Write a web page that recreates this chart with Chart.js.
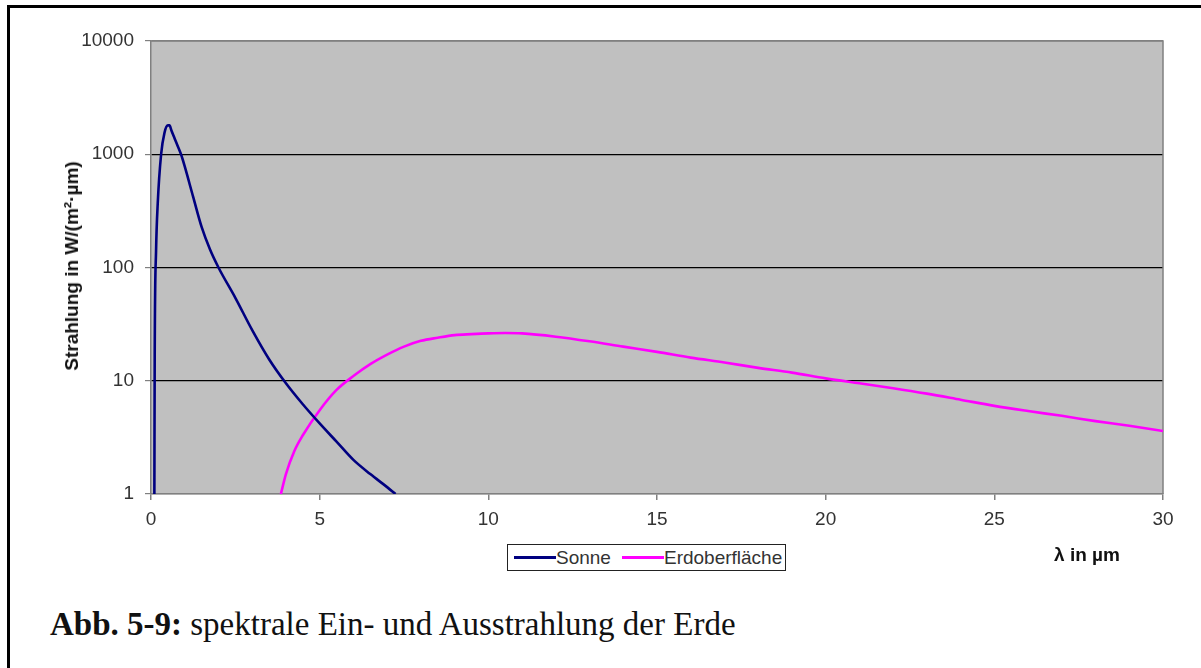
<!DOCTYPE html>
<html lang="de">
<head>
<meta charset="utf-8">
<title>Spektrale Ein- und Ausstrahlung der Erde</title>
<script src="https://cdn.jsdelivr.net/npm/chart.js@4.4.1/dist/chart.umd.min.js"></script>
<style>
  html, body { margin: 0; padding: 0; background: #fff; }
  body { width: 1201px; height: 668px; position: relative; overflow: hidden; font-family: "Liberation Sans", Arial, sans-serif; }
  #frame { position: absolute; left: 7px; top: 5px; right: -20px; bottom: -20px; border-left: 3px solid #000; border-top: 3px solid #000; }
  #chart { position: absolute; left: 0; top: 0; }
  .axis-title { position: absolute; font-weight: bold; font-size: 19px; color: #111; white-space: nowrap; }
  #ytitle { left: 72px; top: 266px; transform: translate(-50%, -50%) rotate(-90deg); }
  #xtitle { left: 1087px; top: 555px; transform: translate(-50%, -50%); }
  #legend { position: absolute; left: 507px; top: 544px; width: 279px; height: 27px; border: 1px solid #222; background: #fff;
            display: flex; align-items: center; font-size: 19px; color: #333; box-sizing: border-box; padding-left: 6px; }
  .swatch { display: inline-block; width: 42px; height: 3px; }
  #caption { position: absolute; left: 50px; top: 608px; font-family: "Liberation Serif", "Times New Roman", serif; font-size: 33px; line-height: 1; color: #111; white-space: nowrap; }
</style>
</head>
<body>
<div id="frame"></div>
<canvas id="chart" width="1201" height="600"></canvas>
<div id="ytitle" class="axis-title">Strahlung in W/(m²·µm)</div>
<div id="xtitle" class="axis-title">λ in µm</div>
<div id="legend">
  <span class="swatch" style="background:#000080"></span><span>Sonne</span>
  <span class="swatch" style="background:#ff00ff; margin-left:11px"></span><span>Erdoberfläche</span>
</div>
<div id="caption"><b>Abb. 5-9:</b> spektrale Ein- und Ausstrahlung der Erde</div>

<script>
// ─── Data ─────────────────────────────────────────────────────────────────────

const sonneLambda = [0.1, 0.11, 0.15, 0.2, 0.3, 0.4, 0.5, 0.55, 0.6, 0.7, 0.8, 0.9, 1.0, 1.25, 1.5, 1.75,
  2.0, 2.5, 3.0, 3.5, 4.0, 4.5, 5.0, 5.5, 6.0, 6.5, 7.0, 7.25];
const sonneValues = [1, 17, 140, 370, 1000, 1550, 1800, 1800, 1640, 1380, 1165, 980, 780, 420, 228, 144,
  100, 54, 28, 15.5, 9.5, 6.2, 4.2, 2.9, 2.0, 1.5, 1.15, 1.0];

const erdeLambda = [3.85, 4.0, 4.25, 4.5, 5.0, 5.5, 6.0, 6.5, 7.0, 7.5, 8.0, 8.5, 9.0, 9.5, 10.0, 10.5, 11.0,
  12.0, 13.0, 14.0, 15.0, 16.0, 17.0, 18.0, 19.0, 20.0, 21.0, 22.0, 23.0, 24.0, 25.0, 26.0, 27.0, 28.0, 29.0, 30.0];
const erdeValues = [1, 1.5, 2.4, 3.3, 5.5, 8.3, 11, 14, 17, 20, 22.5, 24, 25.3, 25.8, 26.2, 26.4, 26.2,
  24.5, 22.3, 20, 18, 16, 14.5, 13, 11.8, 10.5, 9.5, 8.6, 7.7, 6.8, 6.0, 5.4, 4.9, 4.4, 4.0, 3.6];

const yTicks = [1, 10, 100, 1000, 10000];
const xTicks = [0, 5, 10, 15, 20, 25, 30];

const toPoints = (xs, ys) => xs.map((x, i) => ({ x, y: ys[i] }));

// ─── Plot background / frame ──────────────────────────────────────────────────

const plotArea = {
  id: 'plotArea',
  beforeDraw(chart) {
    const { ctx, chartArea: a } = chart;
    ctx.save();
    ctx.fillStyle = '#c0c0c0';
    ctx.fillRect(a.left, a.top, a.right - a.left, a.bottom - a.top);
    ctx.restore();
  },
  beforeDatasetsDraw(chart) {
    const { ctx, chartArea: a } = chart;
    ctx.save();
    ctx.strokeStyle = '#808080';
    ctx.lineWidth = 1.5;
    ctx.beginPath();
    ctx.moveTo(a.left, a.top);
    ctx.lineTo(a.right, a.top);
    ctx.lineTo(a.right, a.bottom);
    ctx.stroke();
    ctx.restore();
  },
};

// ─── Chart ────────────────────────────────────────────────────────────────────

const font = { family: '"Liberation Sans", Arial, sans-serif', size: 19 };

new Chart(document.getElementById('chart'), {
  type: 'line',
  data: {
    datasets: [
      {
        label: 'Sonne',
        data: toPoints(sonneLambda, sonneValues),
        borderColor: '#000080',
        borderWidth: 2.6,
        pointRadius: 0,
        cubicInterpolationMode: 'monotone',
      },
      {
        label: 'Erdoberfläche',
        data: toPoints(erdeLambda, erdeValues),
        borderColor: '#ff00ff',
        borderWidth: 2.6,
        pointRadius: 0,
        cubicInterpolationMode: 'monotone',
      },
    ],
  },
  options: {
    responsive: false,
    animation: false,
    devicePixelRatio: 1,
    layout: { padding: { left: 20, right: 38, top: 41, bottom: 0 } },
    plugins: { legend: { display: false }, tooltip: { enabled: false } },
    scales: {
      x: {
        type: 'linear',
        min: 0,
        max: 30,
        afterFit: s => { s.height = 106; },
        afterBuildTicks: s => { s.ticks = xTicks.map(v => ({ value: v })); },
        ticks: { font, color: '#333', padding: 8, maxRotation: 0, callback: v => String(v) },
        grid: { drawOnChartArea: false, drawTicks: true, tickLength: 6, color: '#808080', lineWidth: 1.5 },
        border: { color: '#808080', width: 1.5 },
      },
      y: {
        type: 'logarithmic',
        min: 1,
        max: 10000,
        afterFit: s => { s.width = 131; },
        afterBuildTicks: s => { s.ticks = yTicks.map(v => ({ value: v })); },
        ticks: { font, color: '#333', padding: 11, callback: v => String(v) },
        grid: {
          color: c => (c.tick && (c.tick.value === 1 || c.tick.value === 10000) ? '#808080' : '#000'),
          lineWidth: 1.2,
          tickColor: '#808080',
          tickLength: 6,
        },
        border: { color: '#808080', width: 1.5 },
      },
    },
  },
  plugins: [plotArea],
});
</script>
</body>
</html>
